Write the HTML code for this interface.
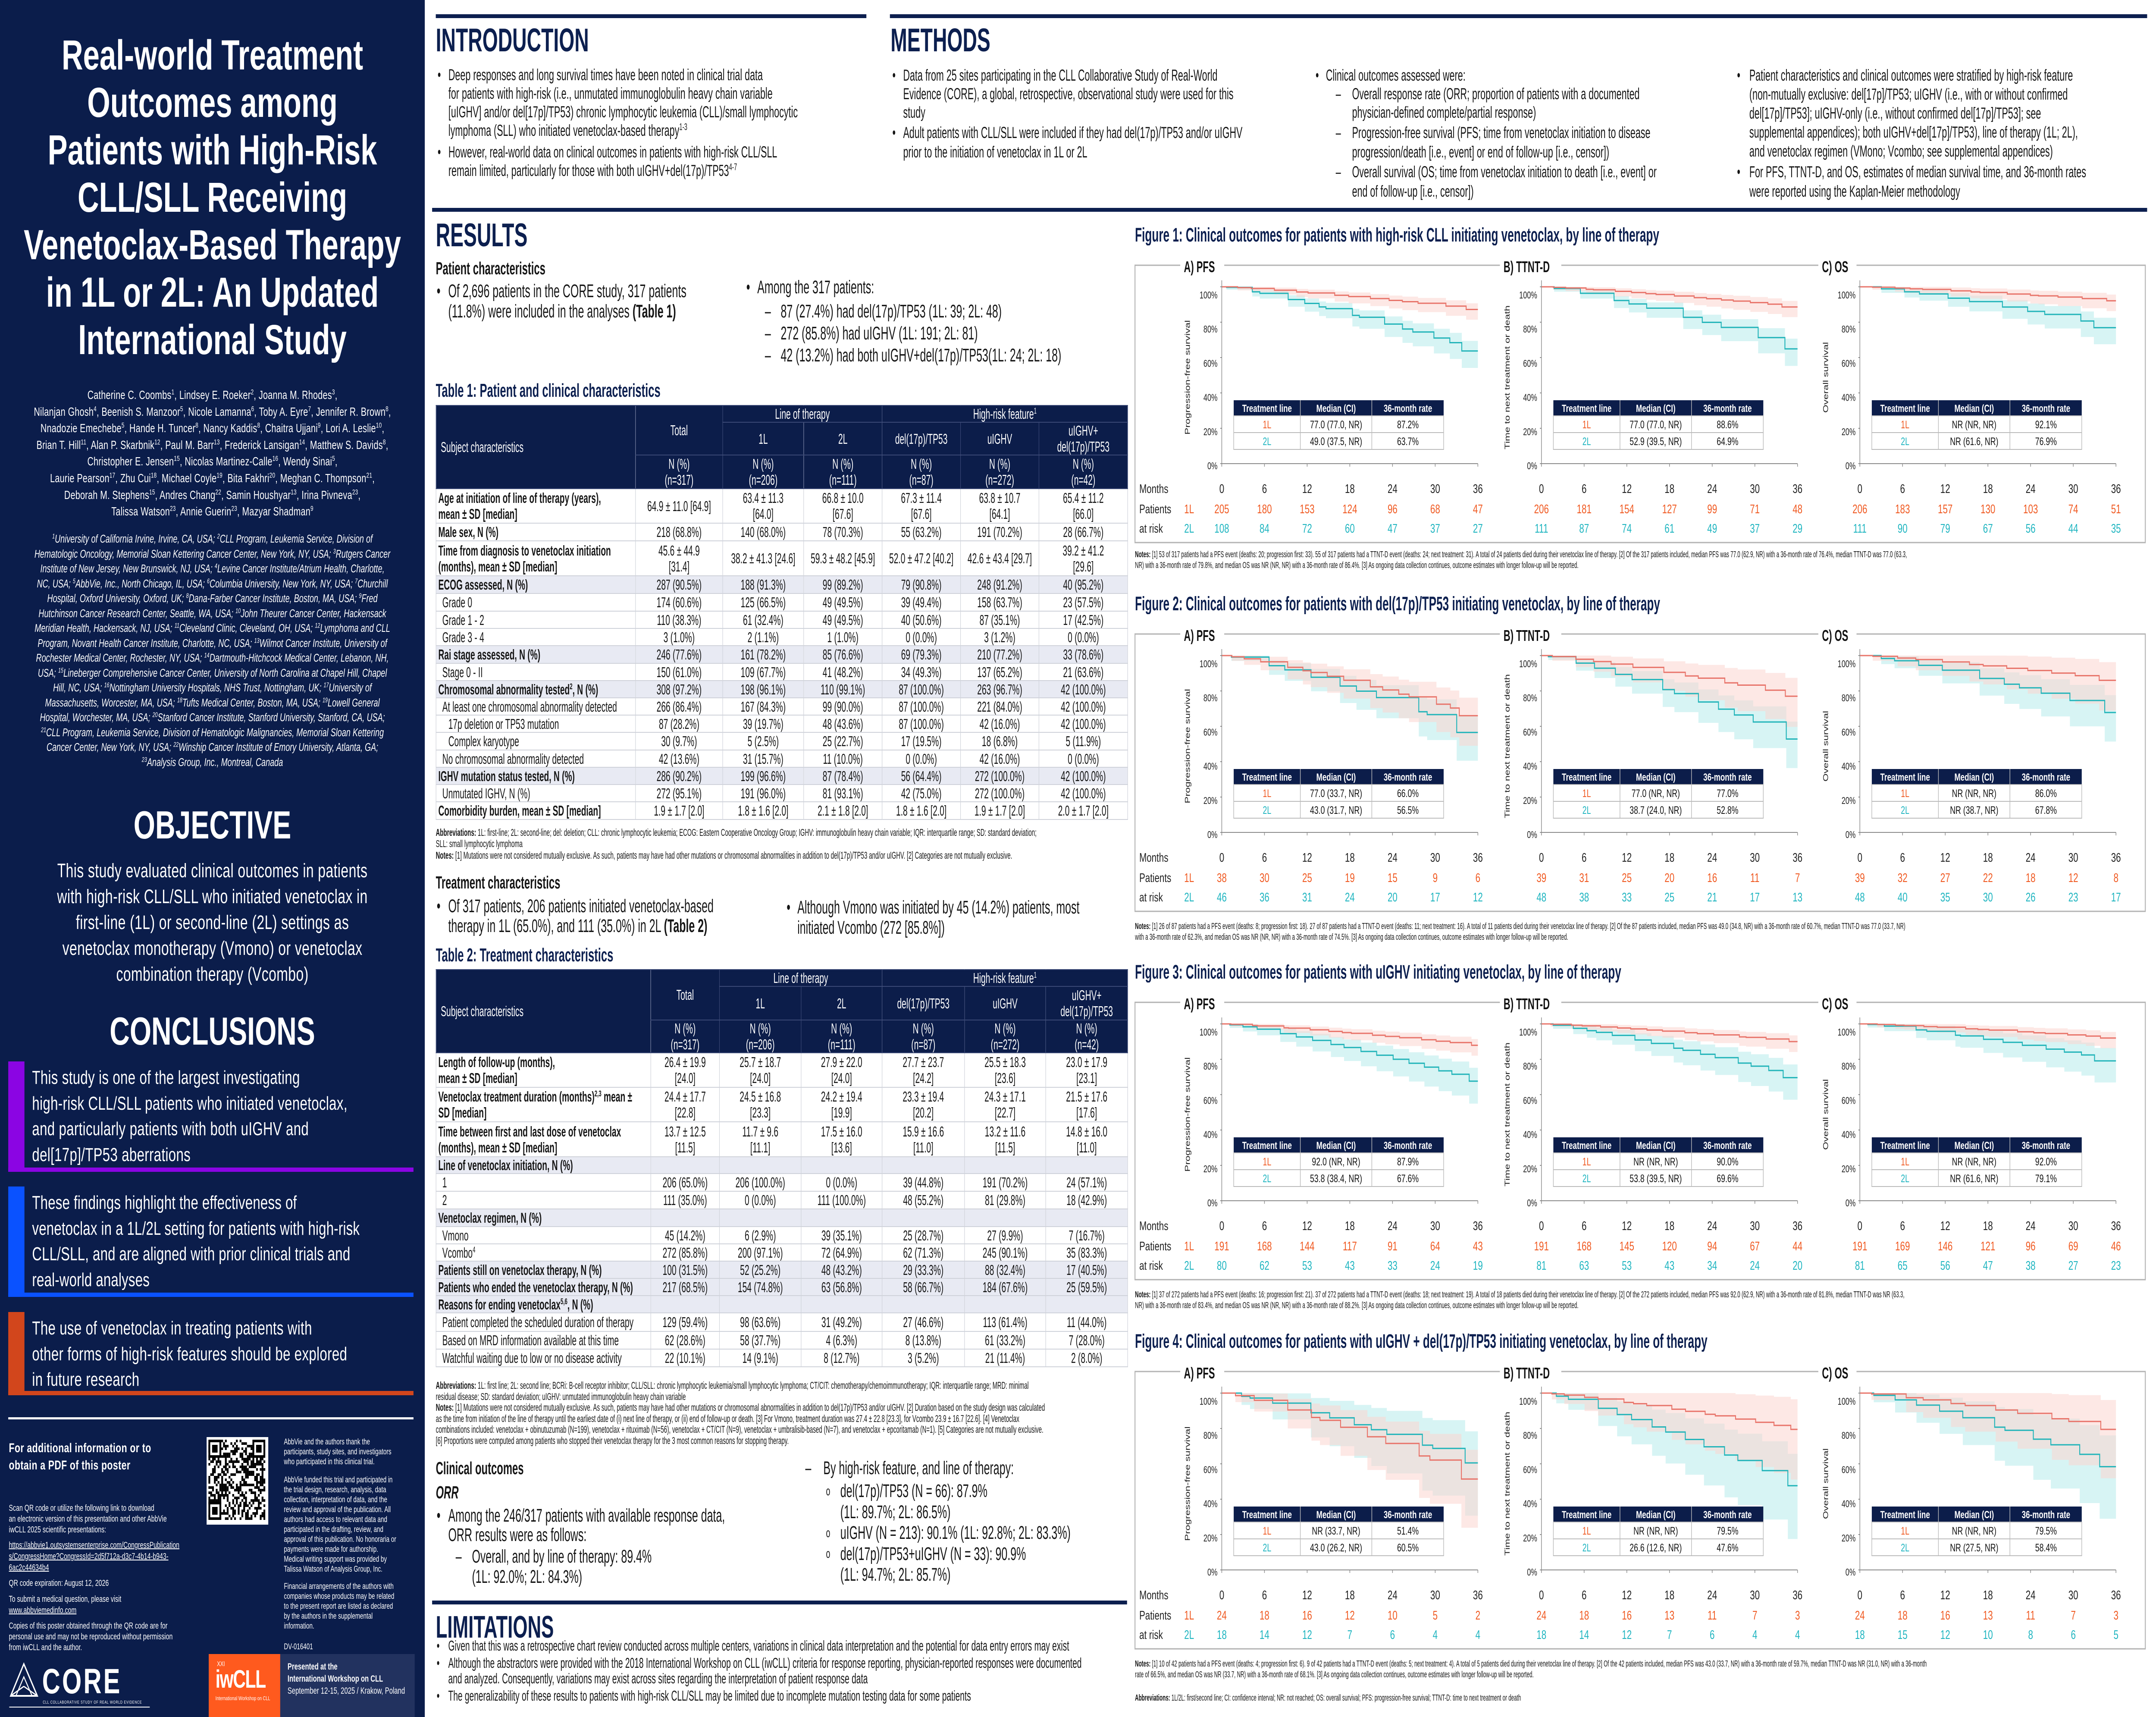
<!DOCTYPE html>
<html><head><meta charset="utf-8">
<style>
html,body{margin:0;padding:0;overflow:hidden;width:100%;height:100%}
body{background:#fff;font-family:"Liberation Sans",Arial,sans-serif;color:#151515}
#pg{position:absolute;left:0;top:0;width:7055px;height:3981px;overflow:hidden;transform-origin:0 0}
.a{position:absolute;white-space:nowrap}
.n{transform:scaleX(.82);transform-origin:0 0}
.w{overflow:hidden}
.nv{color:#0c1f4f}
.h{font-weight:bold;color:#0c1f4f;transform:scaleX(.86);transform-origin:0 0}
.rule{position:absolute;background:#0c1f4f;height:9px}
sup{font-size:60%;line-height:0;vertical-align:super}
.bl{position:absolute;left:0}
table{border-collapse:collapse;table-layout:fixed}
td{border:2px solid #cfd2da;padding:0 8px;text-align:center;font-size:33px;line-height:37px;white-space:nowrap;overflow:hidden}
td.l{text-align:left}
tr.hd td{background:#0c1d4a;color:#fff;border:2px solid #3a4875}
tr.s td{background:#e8eaf3}
.lp{color:#fff}
</style></head><body><div id="pg">

<div style="position:absolute;left:0;top:0;width:1390px;height:3981px;background:#0b1d4b"></div>
<div class="a lp" style="left:0;top:73px;width:1390px;text-align:center;font-weight:bold;font-size:97px;line-height:110px">Real-world Treatment<br>Outcomes among<br>Patients with High-Risk<br>CLL/SLL Receiving<br>Venetoclax-Based Therapy<br>in 1L or 2L: An Updated<br>International Study</div>

<div class="a lp" style="left:0;top:897px;width:1390px;text-align:center;font-size:28px;line-height:38.6px;letter-spacing:.3px">Catherine C. Coombs<sup>1</sup>, Lindsey E. Roeker<sup>2</sup>, Joanna M. Rhodes<sup>3</sup>,<br>Nilanjan Ghosh<sup>4</sup>, Beenish S. Manzoor<sup>5</sup>, Nicole Lamanna<sup>6</sup>, Toby A. Eyre<sup>7</sup>, Jennifer R. Brown<sup>8</sup>,<br>Nnadozie Emechebe<sup>5</sup>, Hande H. Tuncer<sup>8</sup>, Nancy Kaddis<sup>8</sup>, Chaitra Ujjani<sup>9</sup>, Lori A. Leslie<sup>10</sup>,<br>Brian T. Hill<sup>11</sup>, Alan P. Skarbnik<sup>12</sup>, Paul M. Barr<sup>13</sup>, Frederick Lansigan<sup>14</sup>, Matthew S. Davids<sup>8</sup>,<br>Christopher E. Jensen<sup>15</sup>, Nicolas Martinez-Calle<sup>16</sup>, Wendy Sinai<sup>5</sup>,<br>Laurie Pearson<sup>17</sup>, Zhu Cui<sup>18</sup>, Michael Coyle<sup>19</sup>, Bita Fakhri<sup>20</sup>, Meghan C. Thompson<sup>21</sup>,<br>Deborah M. Stephens<sup>15</sup>, Andres Chang<sup>22</sup>, Samin Houshyar<sup>13</sup>, Irina Pivneva<sup>23</sup>,<br>Talissa Watson<sup>23</sup>, Annie Guerin<sup>23</sup>, Mazyar Shadman<sup>9</sup></div>

<div class="a lp" style="left:0;top:1233px;width:1390px;text-align:center;font-size:25.5px;line-height:34.5px;font-style:italic">
<sup>1</sup>University of California Irvine, Irvine, CA, USA; <sup>2</sup>CLL Program, Leukemia Service, Division of<br>
Hematologic Oncology, Memorial Sloan Kettering Cancer Center, New York, NY, USA; <sup>3</sup>Rutgers Cancer<br>
Institute of New Jersey, New Brunswick, NJ, USA; <sup>4</sup>Levine Cancer Institute/Atrium Health, Charlotte,<br>
NC, USA; <sup>5</sup>AbbVie, Inc., North Chicago, IL, USA; <sup>6</sup>Columbia University, New York, NY, USA; <sup>7</sup>Churchill<br>
Hospital, Oxford University, Oxford, UK; <sup>8</sup>Dana-Farber Cancer Institute, Boston, MA, USA; <sup>9</sup>Fred<br>
Hutchinson Cancer Research Center, Seattle, WA, USA; <sup>10</sup>John Theurer Cancer Center, Hackensack<br>
Meridian Health, Hackensack, NJ, USA; <sup>11</sup>Cleveland Clinic, Cleveland, OH, USA; <sup>12</sup>Lymphoma and CLL<br>
Program, Novant Health Cancer Institute, Charlotte, NC, USA; <sup>13</sup>Wilmot Cancer Institute, University of<br>
Rochester Medical Center, Rochester, NY, USA; <sup>14</sup>Dartmouth-Hitchcock Medical Center, Lebanon, NH,<br>
USA; <sup>15</sup>Lineberger Comprehensive Cancer Center, University of North Carolina at Chapel Hill, Chapel<br>
Hill, NC, USA; <sup>16</sup>Nottingham University Hospitals, NHS Trust, Nottingham, UK; <sup>17</sup>University of<br>
Massachusetts, Worcester, MA, USA; <sup>18</sup>Tufts Medical Center, Boston, MA, USA; <sup>19</sup>Lowell General<br>
Hospital, Worchester, MA, USA; <sup>20</sup>Stanford Cancer Institute, Stanford University, Stanford, CA, USA;<br>
<sup>21</sup>CLL Program, Leukemia Service, Division of Hematologic Malignancies, Memorial Sloan Kettering<br>
Cancer Center, New York, NY, USA; <sup>22</sup>Winship Cancer Institute of Emory University, Atlanta, GA;<br>
<sup>23</sup>Analysis Group, Inc., Montreal, Canada</div>

<div class="a lp" style="left:0;top:1864px;width:1390px;text-align:center;font-weight:bold;font-size:91px;line-height:100px">OBJECTIVE</div>
<div class="a lp" style="left:0;top:1989px;width:1390px;text-align:center;font-size:45px;line-height:60px;letter-spacing:.6px">This study evaluated clinical outcomes in patients<br>with high-risk CLL/SLL who initiated venetoclax in<br>first-line (1L) or second-line (2L) settings as<br>venetoclax monotherapy (Vmono) or venetoclax<br>combination therapy (Vcombo)</div>
<div class="a lp" style="left:0;top:2342px;width:1390px;text-align:center;font-weight:bold;font-size:91px;line-height:100px">CONCLUSIONS</div>

<div style="position:absolute;left:27px;top:2461px;height:246px;border-left:53px solid #8b05e3;border-bottom:10px solid #8b05e3;width:1273px"></div>
<div class="a lp" style="left:105px;top:2469px;font-size:44px;line-height:59.5px;letter-spacing:.5px">This study is one of the largest investigating<br>high-risk CLL/SLL patients who initiated venetoclax,<br>and particularly patients with both uIGHV and<br>del[17p]/TP53 aberrations</div>
<div style="position:absolute;left:27px;top:2751px;height:246px;border-left:53px solid #0a52ff;border-bottom:10px solid #0a52ff;width:1273px"></div>
<div class="a lp" style="left:105px;top:2759px;font-size:44px;line-height:59.5px;letter-spacing:.3px">These findings highlight the effectiveness of<br>venetoclax in a 1L/2L setting for patients with high-risk<br>CLL/SLL, and are aligned with prior clinical trials and<br>real-world analyses</div>
<div style="position:absolute;left:27px;top:3042px;height:183px;border-left:53px solid #d2461c;border-bottom:10px solid #d2461c;width:1273px"></div>
<div class="a lp" style="left:105px;top:3050px;font-size:44px;line-height:59.5px;letter-spacing:.5px">The use of venetoclax in treating patients with<br>other forms of high-risk features should be explored<br>in future research</div>

<div style="position:absolute;left:27px;top:3286px;width:1326px;height:5px;background:#fff"></div>
<div class="a lp" style="left:29px;top:3338px;font-weight:bold;font-size:30px;line-height:40px;letter-spacing:.6px">For additional information or to<br>obtain a PDF of this poster</div>
<div class="a lp" style="left:29px;top:3485px;font-size:20px;line-height:25px">Scan QR code or utilize the following link to download<br>an electronic version of this presentation and other AbbVie<br>iwCLL 2025 scientific presentations:</div>
<div class="a lp" style="left:29px;top:3570px;font-size:20px;line-height:26px;text-decoration:underline">https://abbvie1.outsystemsenterprise.com/CongressPublication<br>s/CongressHome?CongressId=2d5f712a-d3c7-4b14-b943-<br>6ac2c44634b4</div>
<div class="a lp" style="left:29px;top:3659px;font-size:20px;line-height:25px">QR code expiration: August 12, 2026</div>
<div class="a lp" style="left:29px;top:3695px;font-size:20px;line-height:26px">To submit a medical question, please visit<br><u>www.abbviemedinfo.com</u></div>
<div class="a lp" style="left:29px;top:3758px;font-size:20px;line-height:25px">Copies of this poster obtained through the QR code are for<br>personal use and may not be reproduced without permission<br>from iwCLL and the author.</div>
<svg id="qr" style="position:absolute;left:676px;top:3332px" width="202" height="203"></svg>
<div class="a lp" style="left:929px;top:3332px;font-size:19px;line-height:23px">AbbVie and the authors thank the<br>participants, study sites, and investigators<br>who participated in this clinical trial.</div>
<div class="a lp" style="left:929px;top:3420px;font-size:19px;line-height:23px">AbbVie funded this trial and participated in<br>the trial design, research, analysis, data<br>collection, interpretation of data, and the<br>review and approval of the publication. All<br>authors had access to relevant data and<br>participated in the drafting, review, and<br>approval of this publication. No honoraria or<br>payments were made for authorship.<br>Medical writing support was provided by<br>Talissa Watson of Analysis Group, Inc.</div>
<div class="a lp" style="left:929px;top:3667px;font-size:19px;line-height:23px">Financial arrangements of the authors with<br>companies whose products may be related<br>to the present report are listed as declared<br>by the authors in the supplemental<br>information.</div>
<div class="a lp" style="left:929px;top:3807px;font-size:19px;line-height:23px">DV-016401</div>

<svg style="position:absolute;left:30px;top:3850px" width="470" height="110">
<polygon points="5,82 48,8 92,82" fill="none" stroke="#fff" stroke-width="4"/>
<polygon points="22,82 48,38 75,82" fill="none" stroke="#fff" stroke-width="3"/>
<line x1="5" y1="82" x2="48" y2="60" stroke="#fff" stroke-width="3"/><line x1="92" y1="82" x2="48" y2="60" stroke="#fff" stroke-width="3"/>
<text x="108" y="76" fill="#fff" font-size="82" font-weight="bold" font-family="Liberation Sans,sans-serif" letter-spacing="6">CORE</text>
<text x="110" y="100" fill="#fff" font-size="10" font-family="Liberation Sans,sans-serif" letter-spacing="1">CLL COLLABORATIVE STUDY OF REAL WORLD EVIDENCE</text>
<line x1="0" y1="108" x2="460" y2="108" stroke="#fff" stroke-width="2"/>
</svg>
<div style="position:absolute;left:683px;top:3835px;width:234px;height:146px;background:#ff5a1e"></div>
<div class="a lp" style="left:710px;top:3850px;font-size:16px">XXI</div>
<div class="a lp" style="left:705px;top:3860px;font-size:58px;font-weight:bold;letter-spacing:-2px">iwCLL</div>
<div class="a lp" style="left:705px;top:3930px;font-size:13px">International Workshop on CLL</div>
<div style="position:absolute;left:917px;top:3835px;width:440px;height:146px;background:#22325f"></div>
<div class="a lp" style="left:941px;top:3851px;font-size:21px;line-height:28px;font-weight:bold">Presented at the<br>International Workshop on CLL<br><span style="font-weight:normal">September 12-15, 2025 / Krakow, Poland</span></div>

<div class="rule" style="left:1426px;top:33px;width:1409px"></div>
<div class="rule" style="left:2912px;top:33px;width:4114px"></div>
<div class="rule" style="left:1414px;top:482px;width:5612px"></div>
<div class="rule" style="left:1414px;top:3711px;width:2274px"></div>

<div class="a h" style="left:1426px;top:56px;font-size:76px;line-height:76px">INTRODUCTION</div>
<div class="a n" style="left:1432px;top:152px;font-size:37px;line-height:43px;padding-left:43px"><span class="bl">•</span>Deep responses and long survival times have been noted in clinical trial data<br>for patients with high-risk (i.e., unmutated immunoglobulin heavy chain variable<br>[uIGHV] and/or del[17p]/TP53) chronic lymphocytic leukemia (CLL)/small lymphocytic<br>lymphoma (SLL) who initiated venetoclax-based therapy<sup>1-3</sup></div>
<div class="a n" style="left:1432px;top:331px;font-size:37px;line-height:43px;padding-left:43px"><span class="bl">•</span>However, real-world data on clinical outcomes in patients with high-risk CLL/SLL<br>remain limited, particularly for those with both uIGHV+del(17p)/TP53<sup>4-7</sup></div>

<div class="a h" style="left:2914px;top:56px;font-size:76px;line-height:76px">METHODS</div>
<div class="a n" style="left:2920px;top:153px;font-size:37px;line-height:43px;padding-left:43px"><span class="bl">•</span>Data from 25 sites participating in the CLL Collaborative Study of Real-World<br>Evidence (CORE), a global, retrospective, observational study were used for this<br>study</div>
<div class="a n" style="left:2920px;top:285px;font-size:37px;line-height:45px;padding-left:43px"><span class="bl">•</span>Adult patients with CLL/SLL were included if they had del(17p)/TP53 and/or uIGHV<br>prior to the initiation of venetoclax in 1L or 2L</div>
<div class="a n" style="left:4305px;top:153px;font-size:37px;line-height:43px;padding-left:41px"><span class="bl">•</span>Clinical outcomes assessed were:</div>
<div class="a n" style="left:4371px;top:196px;font-size:37px;line-height:43px;padding-left:65px"><span class="bl">–</span>Overall response rate (ORR; proportion of patients with a documented<br>physician-defined complete/partial response)</div>
<div class="a n" style="left:4371px;top:285px;font-size:37px;line-height:45px;padding-left:65px"><span class="bl">–</span>Progression-free survival (PFS; time from venetoclax initiation to disease<br>progression/death [i.e., event] or end of follow-up [i.e., censor])</div>
<div class="a n" style="left:4371px;top:376px;font-size:37px;line-height:45px;padding-left:65px"><span class="bl">–</span>Overall survival (OS; time from venetoclax initiation to death [i.e., event] or<br>end of follow-up [i.e., censor])</div>
<div class="a n w" style="left:5684px;top:153px;width:1580px;font-size:37px;line-height:44px;padding-left:49px"><span class="bl">•</span>Patient characteristics and clinical outcomes were stratified by high-risk feature<br>(non-mutually exclusive: del[17p]/TP53; uIGHV (i.e., with or without confirmed<br>del[17p]/TP53]; uIGHV-only (i.e., without confirmed del[17p]/TP53]; see<br>supplemental appendices); both uIGHV+del[17p]/TP53), line of therapy (1L; 2L),<br>and venetoclax regimen (VMono; Vcombo; see supplemental appendices)</div>
<div class="a n w" style="left:5684px;top:376px;width:1580px;font-size:37px;line-height:45px;padding-left:49px"><span class="bl">•</span>For PFS, TTNT-D, and OS, estimates of median survival time, and 36-month rates<br>were reported using the Kaplan-Meier methodology</div>

<div class="a h" style="left:1426px;top:508px;font-size:76px;line-height:76px">RESULTS</div>
<div class="a n" style="left:1426px;top:600px;font-size:41px;line-height:44px;font-weight:bold">Patient characteristics</div>
<div class="a n" style="left:1429px;top:652px;font-size:43px;line-height:47px;padding-left:46px"><span class="bl">•</span>Of 2,696 patients in the CORE study, 317 patients<br>(11.8%) were included in the analyses <b>(Table 1)</b></div>
<div class="a n" style="left:2442px;top:643px;font-size:43px;line-height:47px;padding-left:44px"><span class="bl">•</span>Among the 317 patients:</div>
<div class="a n" style="left:2503px;top:697px;font-size:43px;line-height:51px;padding-left:63px"><span class="bl">–</span>87 (27.4%) had del(17p)/TP53 (1L: 39; 2L: 48)</div>
<div class="a n" style="left:2503px;top:748px;font-size:43px;line-height:51px;padding-left:63px"><span class="bl">–</span>272 (85.8%) had uIGHV (1L: 191; 2L: 81)</div>
<div class="a n" style="left:2503px;top:799px;font-size:43px;line-height:51px;padding-left:63px"><span class="bl">–</span>42 (13.2%) had both uIGHV+del(17p)/TP53(1L: 24; 2L: 18)</div>
<div class="a n nv" style="left:1426px;top:882px;font-size:44px;line-height:48px;font-weight:bold">Table 1: Patient and clinical characteristics</div>

<div class="a n" style="left:1426px;top:939px;width:2760px">
<table style="width:2760px">
<colgroup><col style="width:796px"><col style="width:348px"><col style="width:323px"><col style="width:313px"><col style="width:313px"><col style="width:313px"><col style="width:354px"></colgroup>
<tr class="hd" style="height:39px"><td class="l" rowspan="3" style="padding-left:18px">Subject characteristics</td><td rowspan="2">Total</td><td colspan="2">Line of therapy</td><td colspan="3">High-risk feature<sup>1</sup></td></tr>
<tr class="hd" style="height:76px"><td>1L</td><td>2L</td><td>del(17p)/TP53</td><td>uIGHV</td><td>uIGHV+<br>del(17p)/TP53</td></tr>
<tr class="hd" style="height:78px"><td>N (%)<br>(n=317)</td><td>N (%)<br>(n=206)</td><td>N (%)<br>(n=111)</td><td>N (%)<br>(n=87)</td><td>N (%)<br>(n=272)</td><td>N (%)<br>(n=42)</td></tr>
<tr style="height:80px"><td class="l"><b>Age at initiation of line of therapy (years),<br>mean ± SD [median]</b></td><td>64.9 ± 11.0 [64.9]</td><td>63.4 ± 11.3<br>[64.0]</td><td>66.8 ± 10.0<br>[67.6]</td><td>67.3 ± 11.4<br>[67.6]</td><td>63.8 ± 10.7<br>[64.1]</td><td>65.4 ± 11.2<br>[66.0]</td></tr>
<tr style="height:41px"><td class="l"><b>Male sex, N (%)</b></td><td>218 (68.8%)</td><td>140 (68.0%)</td><td>78 (70.3%)</td><td>55 (63.2%)</td><td>191 (70.2%)</td><td>28 (66.7%)</td></tr>
<tr style="height:81px"><td class="l"><b>Time from diagnosis to venetoclax initiation<br>(months), mean ± SD [median]</b></td><td>45.6 ± 44.9<br>[31.4]</td><td>38.2 ± 41.3 [24.6]</td><td>59.3 ± 48.2 [45.9]</td><td>52.0 ± 47.2 [40.2]</td><td>42.6 ± 43.4 [29.7]</td><td>39.2 ± 41.2<br>[29.6]</td></tr>
<tr class="s" style="height:41px"><td class="l"><b>ECOG assessed, N (%)</b></td><td>287 (90.5%)</td><td>188 (91.3%)</td><td>99 (89.2%)</td><td>79 (90.8%)</td><td>248 (91.2%)</td><td>40 (95.2%)</td></tr>
<tr style="height:41px"><td class="l" style="padding-left:24px">Grade 0</td><td>174 (60.6%)</td><td>125 (66.5%)</td><td>49 (49.5%)</td><td>39 (49.4%)</td><td>158 (63.7%)</td><td>23 (57.5%)</td></tr>
<tr style="height:40px"><td class="l" style="padding-left:24px">Grade 1 - 2</td><td>110 (38.3%)</td><td>61 (32.4%)</td><td>49 (49.5%)</td><td>40 (50.6%)</td><td>87 (35.1%)</td><td>17 (42.5%)</td></tr>
<tr style="height:40px"><td class="l" style="padding-left:24px">Grade 3 - 4</td><td>3 (1.0%)</td><td>2 (1.1%)</td><td>1 (1.0%)</td><td>0 (0.0%)</td><td>3 (1.2%)</td><td>0 (0.0%)</td></tr>
<tr class="s" style="height:41px"><td class="l"><b>Rai stage assessed, N (%)</b></td><td>246 (77.6%)</td><td>161 (78.2%)</td><td>85 (76.6%)</td><td>69 (79.3%)</td><td>210 (77.2%)</td><td>33 (78.6%)</td></tr>
<tr style="height:40px"><td class="l" style="padding-left:24px">Stage 0 - II</td><td>150 (61.0%)</td><td>109 (67.7%)</td><td>41 (48.2%)</td><td>34 (49.3%)</td><td>137 (65.2%)</td><td>21 (63.6%)</td></tr>
<tr class="s" style="height:40px"><td class="l"><b>Chromosomal abnormality tested<sup>2</sup>, N (%)</b></td><td>308 (97.2%)</td><td>198 (96.1%)</td><td>110 (99.1%)</td><td>87 (100.0%)</td><td>263 (96.7%)</td><td>42 (100.0%)</td></tr>
<tr style="height:40px"><td class="l" style="padding-left:24px">At least one chromosomal abnormality detected</td><td>266 (86.4%)</td><td>167 (84.3%)</td><td>99 (90.0%)</td><td>87 (100.0%)</td><td>221 (84.0%)</td><td>42 (100.0%)</td></tr>
<tr style="height:40px"><td class="l" style="padding-left:48px">17p deletion or TP53 mutation</td><td>87 (28.2%)</td><td>39 (19.7%)</td><td>48 (43.6%)</td><td>87 (100.0%)</td><td>42 (16.0%)</td><td>42 (100.0%)</td></tr>
<tr style="height:41px"><td class="l" style="padding-left:48px">Complex karyotype</td><td>30 (9.7%)</td><td>5 (2.5%)</td><td>25 (22.7%)</td><td>17 (19.5%)</td><td>18 (6.8%)</td><td>5 (11.9%)</td></tr>
<tr style="height:40px"><td class="l" style="padding-left:24px">No chromosomal abnormality detected</td><td>42 (13.6%)</td><td>31 (15.7%)</td><td>11 (10.0%)</td><td>0 (0.0%)</td><td>42 (16.0%)</td><td>0 (0.0%)</td></tr>
<tr class="s" style="height:40px"><td class="l"><b>IGHV mutation status tested, N (%)</b></td><td>286 (90.2%)</td><td>199 (96.6%)</td><td>87 (78.4%)</td><td>56 (64.4%)</td><td>272 (100.0%)</td><td>42 (100.0%)</td></tr>
<tr style="height:40px"><td class="l" style="padding-left:24px">Unmutated IGHV, N (%)</td><td>272 (95.1%)</td><td>191 (96.0%)</td><td>81 (93.1%)</td><td>42 (75.0%)</td><td>272 (100.0%)</td><td>42 (100.0%)</td></tr>
<tr style="height:41px"><td class="l"><b>Comorbidity burden, mean ± SD [median]</b></td><td>1.9 ± 1.7 [2.0]</td><td>1.8 ± 1.6 [2.0]</td><td>2.1 ± 1.8 [2.0]</td><td>1.8 ± 1.6 [2.0]</td><td>1.9 ± 1.7 [2.0]</td><td>2.0 ± 1.7 [2.0]</td></tr>
</table></div>

<div class="a n" style="left:1426px;top:1917px;font-size:23px;line-height:26px"><b>Abbreviations:</b> 1L: first-line; 2L: second-line; del: deletion; CLL: chronic lymphocytic leukemia; ECOG: Eastern Cooperative Oncology Group; IGHV: immunoglobulin heavy chain variable; IQR: interquartile range; SD: standard deviation;<br>SLL: small lymphocytic lymphoma</div>
<div class="a n" style="left:1426px;top:1970px;font-size:23px;line-height:26px"><b>Notes:</b> [1] Mutations were not considered mutually exclusive. As such, patients may have had other mutations or chromosomal abnormalities in addition to del(17p)/TP53 and/or uIGHV. [2] Categories are not mutually exclusive.</div>

<div class="a n" style="left:1426px;top:2024px;font-size:41px;line-height:44px;font-weight:bold">Treatment characteristics</div>
<div class="a n" style="left:1429px;top:2078px;font-size:43px;line-height:46px;padding-left:46px"><span class="bl">•</span>Of 317 patients, 206 patients initiated venetoclax-based<br>therapy in 1L (65.0%), and 111 (35.0%) in 2L <b>(Table 2)</b></div>
<div class="a n" style="left:2574px;top:2081px;font-size:43px;line-height:47px;padding-left:43px"><span class="bl">•</span>Although Vmono was initiated by 45 (14.2%) patients, most<br>initiated Vcombo (272 [85.8%])</div>
<div class="a n nv" style="left:1426px;top:2191px;font-size:44px;line-height:48px;font-weight:bold">Table 2: Treatment characteristics</div>

<div class="a n" style="left:1426px;top:2247px;width:2760px">
<table style="width:2760px">
<colgroup><col style="width:857px"><col style="width:274px"><col style="width:326px"><col style="width:323px"><col style="width:329px"><col style="width:324px"><col style="width:327px"></colgroup>
<tr class="hd" style="height:38px"><td class="l" rowspan="3" style="padding-left:18px">Subject characteristics</td><td rowspan="2">Total</td><td colspan="2">Line of therapy</td><td colspan="3">High-risk feature<sup>1</sup></td></tr>
<tr class="hd" style="height:78px"><td>1L</td><td>2L</td><td>del(17p)/TP53</td><td>uIGHV</td><td>uIGHV+<br>del(17p)/TP53</td></tr>
<tr class="hd" style="height:76px"><td>N (%)<br>(n=317)</td><td>N (%)<br>(n=206)</td><td>N (%)<br>(n=111)</td><td>N (%)<br>(n=87)</td><td>N (%)<br>(n=272)</td><td>N (%)<br>(n=42)</td></tr>
<tr style="height:80px"><td class="l"><b>Length of follow-up (months),<br>mean ± SD [median]</b></td><td>26.4 ± 19.9<br>[24.0]</td><td>25.7 ± 18.7<br>[24.0]</td><td>27.9 ± 22.0<br>[24.0]</td><td>27.7 ± 23.7<br>[24.2]</td><td>25.5 ± 18.3<br>[23.6]</td><td>23.0 ± 17.9<br>[23.1]</td></tr>
<tr style="height:80px"><td class="l"><b>Venetoclax treatment duration (months)<sup>2,3</sup> mean ±<br>SD [median]</b></td><td>24.4 ± 17.7<br>[22.8]</td><td>24.5 ± 16.8<br>[23.3]</td><td>24.2 ± 19.4<br>[19.9]</td><td>23.3 ± 19.4<br>[20.2]</td><td>24.3 ± 17.1<br>[22.7]</td><td>21.5 ± 17.6<br>[17.6]</td></tr>
<tr style="height:81px"><td class="l"><b>Time between first and last dose of venetoclax<br>(months), mean ± SD [median]</b></td><td>13.7 ± 12.5<br>[11.5]</td><td>11.7 ± 9.6<br>[11.1]</td><td>17.5 ± 16.0<br>[13.6]</td><td>15.9 ± 16.6<br>[11.0]</td><td>13.2 ± 11.6<br>[11.5]</td><td>14.8 ± 16.0<br>[11.0]</td></tr>
<tr class="s" style="height:38px"><td class="l"><b>Line of venetoclax initiation, N (%)</b></td><td></td><td></td><td></td><td></td><td></td><td></td></tr>
<tr style="height:41px"><td class="l" style="padding-left:24px">1</td><td>206 (65.0%)</td><td>206 (100.0%)</td><td>0 (0.0%)</td><td>39 (44.8%)</td><td>191 (70.2%)</td><td>24 (57.1%)</td></tr>
<tr style="height:41px"><td class="l" style="padding-left:24px">2</td><td>111 (35.0%)</td><td>0 (0.0%)</td><td>111 (100.0%)</td><td>48 (55.2%)</td><td>81 (29.8%)</td><td>18 (42.9%)</td></tr>
<tr class="s" style="height:41px"><td class="l"><b>Venetoclax regimen, N (%)</b></td><td></td><td></td><td></td><td></td><td></td><td></td></tr>
<tr style="height:40px"><td class="l" style="padding-left:24px">Vmono</td><td>45 (14.2%)</td><td>6 (2.9%)</td><td>39 (35.1%)</td><td>25 (28.7%)</td><td>27 (9.9%)</td><td>7 (16.7%)</td></tr>
<tr style="height:40px"><td class="l" style="padding-left:24px">Vcombo<sup>4</sup></td><td>272 (85.8%)</td><td>200 (97.1%)</td><td>72 (64.9%)</td><td>62 (71.3%)</td><td>245 (90.1%)</td><td>35 (83.3%)</td></tr>
<tr class="s" style="height:40px"><td class="l"><b>Patients still on venetoclax therapy, N (%)</b></td><td>100 (31.5%)</td><td>52 (25.2%)</td><td>48 (43.2%)</td><td>29 (33.3%)</td><td>88 (32.4%)</td><td>17 (40.5%)</td></tr>
<tr class="s" style="height:40px"><td class="l"><b>Patients who ended the venetoclax therapy, N (%)</b></td><td>217 (68.5%)</td><td>154 (74.8%)</td><td>63 (56.8%)</td><td>58 (66.7%)</td><td>184 (67.6%)</td><td>25 (59.5%)</td></tr>
<tr class="s" style="height:40px"><td class="l"><b>Reasons for ending venetoclax<sup>5,6</sup>, N (%)</b></td><td></td><td></td><td></td><td></td><td></td><td></td></tr>
<tr style="height:43px"><td class="l" style="padding-left:24px">Patient completed the scheduled duration of therapy</td><td>129 (59.4%)</td><td>98 (63.6%)</td><td>31 (49.2%)</td><td>27 (46.6%)</td><td>113 (61.4%)</td><td>11 (44.0%)</td></tr>
<tr style="height:41px"><td class="l" style="padding-left:24px">Based on MRD information available at this time</td><td>62 (28.6%)</td><td>58 (37.7%)</td><td>4 (6.3%)</td><td>8 (13.8%)</td><td>61 (33.2%)</td><td>7 (28.0%)</td></tr>
<tr style="height:41px"><td class="l" style="padding-left:24px">Watchful waiting due to low or no disease activity</td><td>22 (10.1%)</td><td>14 (9.1%)</td><td>8 (12.7%)</td><td>3 (5.2%)</td><td>21 (11.4%)</td><td>2 (8.0%)</td></tr>
</table></div>

<div class="a n" style="left:1426px;top:3200px;font-size:23px;line-height:25.5px"><b>Abbreviations:</b> 1L: first line; 2L: second line; BCRi: B-cell receptor inhibitor; CLL/SLL: chronic lymphocytic leukemia/small lymphocytic lymphoma; CT/CIT: chemotherapy/chemoimmunotherapy; IQR: interquartile range; MRD: minimal<br>residual disease; SD: standard deviation; uIGHV: unmutated immunoglobulin heavy chain variable<br><b>Notes:</b> [1] Mutations were not considered mutually exclusive. As such, patients may have had other mutations or chromosomal abnormalities in addition to del(17p)/TP53 and/or uIGHV. [2] Duration based on the study design was calculated<br>as the time from initiation of the line of therapy until the earliest date of (i) next line of therapy, or (ii) end of follow-up or death. [3] For Vmono, treatment duration was 27.4 ± 22.8 [23.3], for Vcombo 23.9 ± 16.7 [22.6]. [4] Venetoclax<br>combinations included: venetoclax + obinutuzumab (N=199), venetoclax + rituximab (N=56), venetoclax + CT/CIT (N=9), venetoclax + umbralisib-based (N=7), and venetoclax + epcoritamab (N=1). [5] Categories are not mutually exclusive.<br>[6] Proportions were computed among patients who stopped their venetoclax therapy for the 3 most common reasons for stopping therapy.</div>

<div class="a n" style="left:1426px;top:3382px;font-size:41px;line-height:44px;font-weight:bold">Clinical outcomes</div>
<div class="a n" style="left:1426px;top:3438px;font-size:41px;line-height:44px;font-weight:bold;font-style:italic">ORR</div>
<div class="a n" style="left:1429px;top:3492px;font-size:43px;line-height:45px;padding-left:46px"><span class="bl">•</span>Among the 246/317 patients with available response data,<br>ORR results were as follows:</div>
<div class="a n" style="left:1491px;top:3586px;font-size:43px;line-height:47px;padding-left:65px"><span class="bl">–</span>Overall, and by line of therapy: 89.4%<br>(1L: 92.0%; 2L: 84.3%)</div>
<div class="a n" style="left:2635px;top:3381px;font-size:43px;line-height:47px;padding-left:72px"><span class="bl">–</span>By high-risk feature, and line of therapy:</div>
<div class="a n" style="left:2703px;top:3433px;font-size:43px;line-height:49px;padding-left:57px"><span class="bl" style="font-size:30px">o</span>del(17p)/TP53 (N = 66): 87.9%<br>(1L: 89.7%; 2L: 86.5%)</div>
<div class="a n" style="left:2703px;top:3530px;font-size:43px;line-height:49px;padding-left:57px"><span class="bl" style="font-size:30px">o</span>uIGHV (N = 213): 90.1% (1L: 92.8%; 2L: 83.3%)</div>
<div class="a n" style="left:2703px;top:3579px;font-size:43px;line-height:48px;padding-left:57px"><span class="bl" style="font-size:30px">o</span>del(17p)/TP53+uIGHV (N = 33): 90.9%<br>(1L: 94.7%; 2L: 85.7%)</div>

<div class="a h" style="left:1426px;top:3737px;font-size:72px;line-height:72px">LIMITATIONS</div>
<div class="a n" style="left:1429px;top:3797px;font-size:33px;line-height:37px;padding-left:46px"><span class="bl">•</span>Given that this was a retrospective chart review conducted across multiple centers, variations in clinical data interpretation and the potential for data entry errors may exist</div>
<div class="a n" style="left:1429px;top:3838px;font-size:33px;line-height:36px;padding-left:46px"><span class="bl">•</span>Although the abstractors were provided with the 2018 International Workshop on CLL (iwCLL) criteria for response reporting, physician-reported responses were documented<br>and analyzed. Consequently, variations may exist across sites regarding the interpretation of patient response data</div>
<div class="a n" style="left:1429px;top:3913px;font-size:33px;line-height:37px;padding-left:46px"><span class="bl">•</span>The generalizability of these results to patients with high-risk CLL/SLL may be limited due to incomplete mutation testing data for some patients</div>

<div class="a n nv w" style="left:3714px;top:521px;width:4030px;font-size:45px;line-height:48px;font-weight:bold">Figure 1: Clinical outcomes for patients with high-risk CLL initiating venetoclax, by line of therapy</div>
<div class="a n nv w" style="left:3714px;top:1376px;width:4030px;font-size:45px;line-height:48px;font-weight:bold">Figure 2: Clinical outcomes for patients with del(17p)/TP53 initiating venetoclax, by line of therapy</div>
<div class="a n nv w" style="left:3714px;top:2230px;width:4030px;font-size:45px;line-height:48px;font-weight:bold">Figure 3: Clinical outcomes for patients with uIGHV initiating venetoclax, by line of therapy</div>
<div class="a n nv w" style="left:3714px;top:3086px;width:4030px;font-size:45px;line-height:48px;font-weight:bold">Figure 4: Clinical outcomes for patients with uIGHV + del(17p)/TP53 initiating venetoclax, by line of therapy</div>

<div class="a n w" style="left:3714px;top:1274px;width:4030px;font-size:20px;line-height:25px"><b>Notes:</b> [1] 53 of 317 patients had a PFS event (deaths: 20; progression first: 33). 55 of 317 patients had a TTNT-D event (deaths: 24; next treatment: 31). A total of 24 patients died during their venetoclax line of therapy. [2] Of the 317 patients included, median PFS was 77.0 (62.9, NR) with a 36-month rate of 76.4%, median TTNT-D was 77.0 (63.3,<br>NR) with a 36-month rate of 79.8%, and median OS was NR (NR, NR) with a 36-month rate of 86.4%. [3] As ongoing data collection continues, outcome estimates with longer follow-up will be reported.</div>
<div class="a n w" style="left:3714px;top:2136px;width:4030px;font-size:20px;line-height:25px"><b>Notes:</b> [1] 26 of 87 patients had a PFS event (deaths: 8; progression first: 18). 27 of 87 patients had a TTNT-D event (deaths: 11; next treatment: 16). A total of 11 patients died during their venetoclax line of therapy. [2] Of the 87 patients included, median PFS was 49.0 (34.8, NR) with a 36-month rate of 60.7%, median TTNT-D was 77.0 (33.7, NR)<br>with a 36-month rate of 62.3%, and median OS was NR (NR, NR) with a 36-month rate of 74.5%. [3] As ongoing data collection continues, outcome estimates with longer follow-up will be reported.</div>
<div class="a n w" style="left:3714px;top:2990px;width:4030px;font-size:20px;line-height:25px"><b>Notes:</b> [1] 37 of 272 patients had a PFS event (deaths: 16; progression first: 21). 37 of 272 patients had a TTNT-D event (deaths: 18; next treatment: 19). A total of 18 patients died during their venetoclax line of therapy. [2] Of the 272 patients included, median PFS was 92.0 (62.9, NR) with a 36-month rate of 81.8%, median TTNT-D was NR (63.3,<br>NR) with a 36-month rate of 83.4%, and median OS was NR (NR, NR) with a 36-month rate of 88.2%. [3] As ongoing data collection continues, outcome estimates with longer follow-up will be reported.</div>
<div class="a n w" style="left:3714px;top:3846px;width:4030px;font-size:20px;line-height:25px"><b>Notes:</b> [1] 10 of 42 patients had a PFS event (deaths: 4; progression first: 6). 9 of 42 patients had a TTNT-D event (deaths: 5; next treatment: 4). A total of 5 patients died during their venetoclax line of therapy. [2] Of the 42 patients included, median PFS was 43.0 (33.7, NR) with a 36-month rate of 59.7%, median TTNT-D was NR (31.0, NR) with a 36-month<br>rate of 66.5%, and median OS was NR (33.7, NR) with a 36-month rate of 68.1%. [3] As ongoing data collection continues, outcome estimates with longer follow-up will be reported.</div>
<div class="a n w" style="left:3714px;top:3925px;width:4030px;font-size:20px;line-height:25px"><b>Abbreviations:</b> 1L/2L: first/second line; CI: confidence interval; NR: not reached; OS: overall survival; PFS: progression-free survival; TTNT-D: time to next treatment or death</div>

<svg id="ch" style="position:absolute;left:0;top:0" width="7055" height="3981"></svg>
</div>
<script>
(function(){
var seed=11;function rnd(){seed=(seed*9301+49297)%233280;return seed/233280;}
var q='<rect width="202" height="203" fill="#fff"/>';var m=6,o=6;
for(var i=0;i<31;i++)for(var j=0;j<31;j++){if(rnd()<0.48)q+='<rect x="'+(o+i*m)+'" y="'+(o+j*m)+'" width="'+m+'" height="'+m+'" fill="#000"/>';}
[[0,0],[24,0],[0,24]].forEach(function(c){var x=o+c[0]*m,y=o+c[1]*m;q+='<rect x="'+x+'" y="'+y+'" width="42" height="42" fill="#000"/><rect x="'+(x+6)+'" y="'+(y+6)+'" width="30" height="30" fill="#fff"/><rect x="'+(x+12)+'" y="'+(y+12)+'" width="18" height="18" fill="#000"/>';});
document.getElementById('qr').innerHTML=q;

var P=[3998,5044,6086],W=838;
var L=['A) PFS','B) TTNT-D','C) OS'],YL=['Progression-free survival','Time to next treatment or death','Overall survival'];
var FIG=[
 {y:545,w:[.05,.09],p:[
  [['77.0 (77.0, NR)','87.2%','49.0 (37.5, NR)','63.7%'],[.872,.637],['205','180','153','124','96','68','47'],['108','84','72','60','47','37','27']],
  [['77.0 (77.0, NR)','88.6%','52.9 (39.5, NR)','64.9%'],[.886,.649],['206','181','154','127','99','71','48'],['111','87','74','61','49','37','29']],
  [['NR (NR, NR)','92.1%','NR (61.6, NR)','76.9%'],[.921,.769],['206','183','157','130','103','74','51'],['111','90','79','67','56','44','35']]]},
 {y:1400,w:[.17,.16],p:[
  [['77.0 (33.7, NR)','66.0%','43.0 (31.7, NR)','56.5%'],[.66,.565],['38','30','25','19','15','9','6'],['46','36','31','24','20','17','12']],
  [['77.0 (NR, NR)','77.0%','38.7 (24.0, NR)','52.8%'],[.77,.528],['39','31','25','20','16','11','7'],['48','38','33','25','21','17','13']],
  [['NR (NR, NR)','86.0%','NR (38.7, NR)','67.8%'],[.86,.678],['39','32','27','22','18','12','8'],['48','40','35','30','26','23','17']]]},
 {y:2254,w:[.05,.12],p:[
  [['92.0 (NR, NR)','87.9%','53.8 (38.4, NR)','67.6%'],[.879,.676],['191','168','144','117','91','64','43'],['80','62','53','43','33','24','19']],
  [['NR (NR, NR)','90.0%','53.8 (39.5, NR)','69.6%'],[.90,.696],['191','168','145','120','94','67','44'],['81','63','53','43','34','24','20']],
  [['NR (NR, NR)','92.0%','NR (61.6, NR)','79.1%'],[.92,.791],['191','169','146','121','96','69','46'],['81','65','56','47','38','27','23']]]},
 {y:3110,w:[.28,.3],p:[
  [['NR (33.7, NR)','51.4%','43.0 (26.2, NR)','60.5%'],[.514,.605],['24','18','16','12','10','5','2'],['18','14','12','7','6','4','4']],
  [['NR (NR, NR)','79.5%','26.6 (12.6, NR)','47.6%'],[.795,.476],['24','18','16','13','11','7','3'],['18','14','12','7','6','4','4']],
  [['NR (NR, NR)','79.5%','NR (27.5, NR)','58.4%'],[.795,.584],['24','18','16','13','11','7','3'],['18','15','12','10','8','6','5']]]}
];
var FF='font-family="Liberation Sans,Arial,sans-serif"';
var s='';
function T(x,y,txt,sz,fill,anc,extra){return '<text x="'+x+'" y="'+y+'" font-size="'+sz+'" fill="'+fill+'" text-anchor="'+(anc||'start')+'" '+FF+' '+(extra||'')+'>'+txt+'</text>';}
FIG.forEach(function(f){
 var Y=f.y,y100=Y+120,y0=Y+530;
 s+='<rect x="3714" y="'+(Y+70)+'" width="3306" height="643" fill="none" stroke="#b3b3b3" stroke-width="3"/>';
 f.p.forEach(function(p,pi){
  var X0=P[pi];
  function X(t){return X0+t/36*W;} function YV(v){return y0-v*(y0-y100);}
  var lw=L[pi].length*19+30;
  s+='<rect x="'+(X0-136)+'" y="'+(Y+55)+'" width="'+lw+'" height="35" fill="#fff"/>';
  s+=T(X0-124,Y+86,L[pi],36,'#111','start','font-weight="bold" transform="translate('+(X0-124)*0.14+',0) scale(0.86,1)"');
  s+='<text transform="translate('+(X0-104)+','+(Y+330)+') rotate(-90)" font-size="24" fill="#222" text-anchor="middle" '+FF+'>'+YL[pi]+'</text>';
  for(var i=0;i<6;i++){s+=T(X0-14,Y+147+i*79.2,(100-20*i)+'%',23,'#222','end');
   s+='<line x1="'+(X0-5)+'" x2="'+X0+'" y1="'+(y100+i*(y0-y100)/5)+'" y2="'+(y100+i*(y0-y100)/5)+'" stroke="#888" stroke-width="2"/>';}
  var cur=[];
  [1,0].forEach(function(li){
   var F=p[1][li],wb=f.w[li],n=10+Math.floor(rnd()*7),ts=[],vs=[];
   for(var k=1;k<=n;k++){var t=36*(k-rnd()*0.75)/(n+0.4);ts.push(t);vs.push(k==n?F:1-(1-F)*Math.pow(t/36,1.2));}
   var d='M'+X(0)+' '+YV(1),up=[[X(0),YV(1)]],lo=[[X(0),YV(1)]];
   var pu=1,pl=1;
   for(var k=0;k<n;k++){var w=wb*Math.pow(ts[k]/36,0.8)+0.01;var u=Math.min(1,vs[k]+w*0.6),l=Math.max(0,vs[k]-w);
    d+=' H'+X(ts[k]).toFixed(1)+' V'+YV(vs[k]).toFixed(1);
    up.push([X(ts[k]),YV(pu)]);up.push([X(ts[k]),YV(u)]);pu=u;
    lo.push([X(ts[k]),YV(pl)]);lo.push([X(ts[k]),YV(l)]);pl=l;}
   d+=' H'+X(36);up.push([X(36),YV(pu)]);lo.push([X(36),YV(pl)]);
   var poly=up.concat(lo.reverse()).map(function(a){return a[0].toFixed(1)+','+a[1].toFixed(1);}).join(' ');
   cur.push([li,d,poly]);
  });
  cur.forEach(function(c){s+='<polygon points="'+c[2]+'" fill="'+(c[0]?'#bdeced':'#fcd6cf')+'" fill-opacity="'+(c[0]?0.6:0.55)+'"/>';});
  cur.forEach(function(c){s+='<path d="'+c[1]+'" fill="none" stroke="'+(c[0]?'#22b4b9':'#e8746a')+'" stroke-width="3"/>';});
  s+='<line x1="'+X0+'" x2="'+X0+'" y1="'+(Y+105)+'" y2="'+y0+'" stroke="#8a8a8a" stroke-width="2"/>';
  s+='<line x1="'+X0+'" x2="'+(X0+W)+'" y1="'+y0+'" y2="'+y0+'" stroke="#8a8a8a" stroke-width="2"/>';
  for(var i=0;i<7;i++)s+='<line x1="'+X(i*6)+'" x2="'+X(i*6)+'" y1="'+y0+'" y2="'+(y0+7)+'" stroke="#8a8a8a" stroke-width="2"/>';
  var tx=X0+39,ty=Y+383;
  s+='<rect x="'+tx+'" y="'+ty+'" width="687" height="36" fill="#0c1d4a"/>';
  s+='<rect x="'+tx+'" y="'+(ty+36)+'" width="687" height="78" fill="#fff" stroke="#bbb" stroke-width="2"/>';
  s+='<line x1="'+tx+'" x2="'+(tx+687)+'" y1="'+(ty+75)+'" y2="'+(ty+75)+'" stroke="#bbb" stroke-width="2"/>';
  [218,452].forEach(function(dx){s+='<line x1="'+(tx+dx)+'" x2="'+(tx+dx)+'" y1="'+ty+'" y2="'+(ty+114)+'" stroke="#bbb" stroke-width="2"/>';});
  var cx=[tx+109,tx+335,tx+570];
  ['Treatment line','Median (CI)','36-month rate'].forEach(function(h,i){s+=T(cx[i],ty+27,h,24,'#fff','middle','font-weight="bold"');});
  s+=T(cx[0],ty+65,'1L',25,'#f05a22','middle')+T(cx[1],ty+65,p[0][0],25,'#111','middle')+T(cx[2],ty+65,p[0][1],25,'#111','middle');
  s+=T(cx[0],ty+104,'2L',25,'#1fb5c0','middle')+T(cx[1],ty+104,p[0][2],25,'#111','middle')+T(cx[2],ty+104,p[0][3],25,'#111','middle');
  for(var i=0;i<7;i++){
   s+=T(X(i*6),Y+598,String(i*6),29,'#222','middle');
   s+=T(X(i*6),Y+645,p[2][i],29,'#f05a22','middle');
   s+=T(X(i*6),Y+690,p[3][i],29,'#1fb5c0','middle');
  }
 });
 s+=T(3728,Y+598,'Months',29,'#222')+T(3728,Y+645,'Patients',29,'#222')+T(3728,Y+690,'at risk',29,'#222');
 s+=T(3875,Y+645,'1L',29,'#f05a22')+T(3875,Y+690,'2L',29,'#1fb5c0');
});
document.getElementById('ch').innerHTML=s;

function fit(){
 var vw=window.innerWidth||document.documentElement.clientWidth||7055;
 var vh=window.innerHeight||document.documentElement.clientHeight||3981;
 var sx=vw/7055, sy=vh/3981;
 var pg=document.getElementById('pg');
 if(Math.abs(sx-1)>0.002||Math.abs(sy-1)>0.002){pg.style.transform='scale('+sx+','+sy+')';}
 else{pg.style.transform='none';}
}
fit();window.addEventListener('resize',fit);
})();
</script>
</body></html>
